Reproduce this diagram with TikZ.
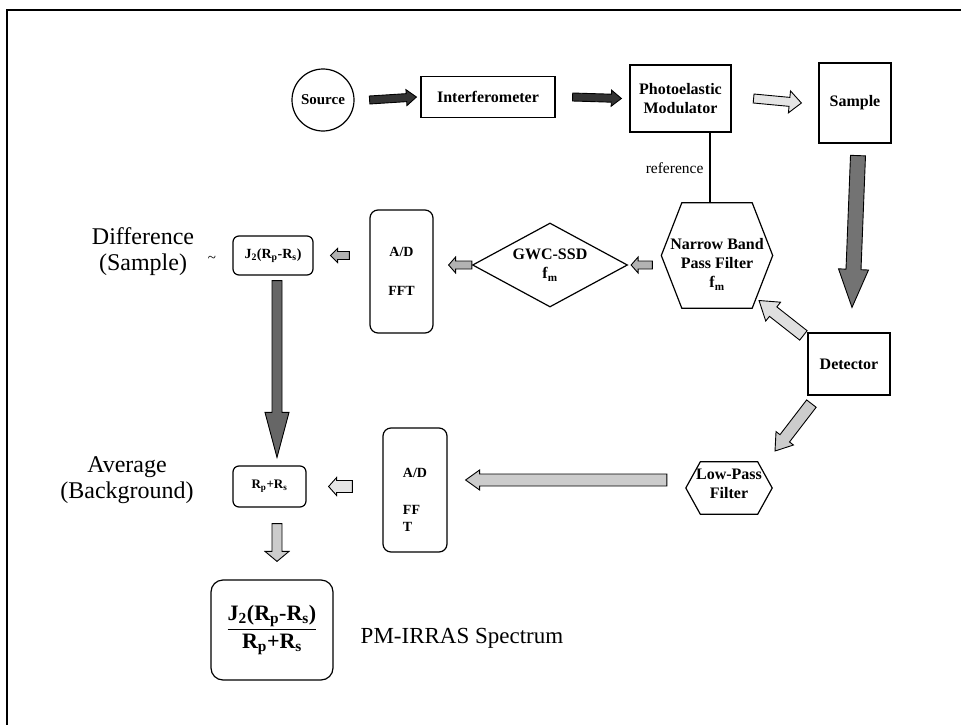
\documentclass[tikz,border=0pt]{standalone}
\usepackage{amsmath}
\usepackage{fontspec}
\setmainfont{Liberation Serif}
\usetikzlibrary{calc, shapes.geometric}

% block arrow: [style]{from}{to}{half shaft}{half head}{head length}
\newcommand{\blockarrow}[6][]{%
  \coordinate (ba-s) at #2;
  \coordinate (ba-e) at #3;
  \coordinate (ba-c) at ($(ba-e)!#6!(ba-s)$);
  \filldraw[blk, #1]
    ($(ba-s)!#4!90:(ba-e)$) -- ($(ba-c)!#4!90:(ba-e)$) -- ($(ba-c)!#5!90:(ba-e)$)
    -- (ba-e) -- ($(ba-c)!#5!-90:(ba-e)$) -- ($(ba-c)!#4!-90:(ba-e)$)
    -- ($(ba-s)!#4!-90:(ba-e)$) -- cycle;
}

\begin{document}
\begin{tikzpicture}[
  x=1pt, y=-1pt,
  box/.style={draw, line width=1.2pt, font=\bfseries\fontsize{16}{19}\selectfont,
    align=center, inner sep=2pt},
  rbox/.style={box, rounded corners=#1},
  rbox/.default=6pt,
  hexa/.style={font=\bfseries\fontsize{16}{19}\selectfont, align=center, inner sep=0pt},
  lbl/.style={font=\fontsize{24}{26}\selectfont, align=center},
  blk/.style={draw=black, line width=0.9pt, line join=miter},
]

\useasboundingbox (0,0) rectangle (961,725);

% frame
\draw[line width=2pt] (7,725) -- (7,10) -- (961,10);

% =============================================
% top row
% =============================================
\node[box, circle, minimum size=62pt, inner sep=0pt,
  font=\bfseries\fontsize{15}{18}\selectfont] (src) at (323,100) {Source};
\node[box, minimum width=134pt, minimum height=41pt] (intf) at (488,97) {Interferometer};
\node[box, minimum width=101pt, minimum height=67pt] (pem) at (680.5,98.5)
  {Photoelastic\\Modulator};
\node[box, minimum width=72pt, minimum height=80pt] (smp) at (855,103) {Sample};

\blockarrow[fill=black!80]{([xshift=15pt]src.east)}{([xshift=-4pt]intf.west)}{4pt}{8pt}{10pt}
\blockarrow[fill=black!80]{([xshift=17pt]intf.east)}{([xshift=-8pt]pem.west)}{4pt}{8pt}{10pt}
\blockarrow[fill=gray!20]{([xshift=22pt]pem.east)}{([xshift=-17pt]smp.west)}{4.5pt}{11pt}{12pt}

% =============================================
% detector and lock-in branch
% =============================================
\node[box, minimum width=82pt, minimum height=62pt] (det) at (849,364) {Detector};

\node[minimum width=111pt, minimum height=105pt] (nbp) at (717,255.5) {};
\draw[line width=1.2pt] (nbp.west) -- ([xshift=20.5pt]nbp.north west)
  -- ([xshift=-20.5pt]nbp.north east) -- (nbp.east)
  -- ([xshift=-20.5pt]nbp.south east) -- ([xshift=20.5pt]nbp.south west) -- cycle;
\node[hexa] (nbptext) at ([yshift=-9pt]nbp.center)
  {Narrow Band\\Pass Filter\\f\textsubscript{m}};

% reference line
\draw[line width=1.2pt] ([xshift=29.5pt]pem.south) -- ([xshift=29.5pt]pem.south |- nbp.north)
  node[midway, left, font=\fontsize{15.5}{18}\selectfont, inner sep=6pt] (ref) {reference};

\node[box, diamond, aspect=1.85, inner sep=0pt, minimum width=155pt,
  minimum height=84pt] (gwc) at (550,265) {GWC-SSD\\f\textsubscript{m}};

\node[rbox=8pt, minimum width=63pt, minimum height=123pt,
  font=\bfseries\fontsize{14}{17}\selectfont] (adu) at (401.5,271.5) {A/D\\[22pt]FFT};

\node[rbox, minimum width=80pt, minimum height=39pt,
  font=\bfseries\fontsize{14}{17}\selectfont] (diff) at (273,255.5)
  {J\textsubscript{2}(R\textsubscript{p}-R\textsubscript{s})};

\node[lbl] (difflbl) at (143,251.5) {Difference\\(Sample)};
\node[font=\fontsize{15}{16}\selectfont] (tilde) at (212,259) {\textasciitilde};

\blockarrow[fill=black!55]{([shift={(3,12)}]smp.south)}{([shift={(3,-25)}]det.north)}{7.5pt}{15pt}{38pt}
\blockarrow[fill=gray!25]{([shift={(-4,3)}]det.north west)}{([shift={(42,45)}]nbp.center)}{6pt}{12pt}{18pt}
\blockarrow[fill=gray!60]{([shift={(-9,9.5)}]nbp.west)}{([xshift=3pt]gwc.east)}{4pt}{8pt}{7pt}
\blockarrow[fill=gray!60]{(gwc.west)}{([xshift=15pt]gwc.west -| adu.east)}{4pt}{8pt}{7pt}
\blockarrow[fill=gray!60]{([xshift=-20pt]adu.west |- diff.east)}{([xshift=17pt]diff.east)}{4pt}{7pt}{7pt}

% =============================================
% low-pass / background branch
% =============================================
\node[minimum width=86pt, minimum height=52pt] (lp) at (729,488) {};
\draw[line width=1.2pt] (lp.west) -- ([xshift=14.5pt]lp.north west)
  -- ([xshift=-14.5pt]lp.north east) -- (lp.east)
  -- ([xshift=-14.5pt]lp.south east) -- ([xshift=14.5pt]lp.south west) -- cycle;
\node[hexa] (lptext) at ([yshift=4pt]lp.center) {Low-Pass\\Filter};

\node[rbox=8pt, minimum width=64pt, minimum height=124pt] (adl) at (415,490) {};
\node[align=left, font=\bfseries\fontsize{14}{17}\selectfont] (adltext)
  at ([yshift=-10pt]adl.center) {A/D\\[20pt]FF\\T};

\node[rbox, minimum width=73pt, minimum height=41pt,
  font=\bfseries\fontsize{13}{16}\selectfont] (avg) at (269.5,486.5)
  {R\textsubscript{p}+R\textsubscript{s}};

\node[lbl] (avglbl) at (127,480) {Average\\(Background)};

\blockarrow[fill=gray!40]{([shift={(4,8)}]det.south west)}{([shift={(46,-37)}]lp.center)}{6pt}{11pt}{16pt}
\blockarrow[fill=gray!40]{([shift={(-19,-8)}]lp.west)}{([shift={(18,-10)}]adl.east)}{6pt}{10pt}{14pt}
\blockarrow[fill=gray!20]{([xshift=-30pt]adl.west |- avg.east)}{([xshift=22pt]avg.east)}{6pt}{9pt}{8pt}
\blockarrow[fill=black!60]{([shift={(4,5)}]diff.south)}{([shift={(7.5,-8)}]avg.north)}{5pt}{12pt}{45pt}

% =============================================
% result
% =============================================
\node[rbox=12pt, minimum width=122pt, minimum height=100pt,
  font=\bfseries\fontsize{22}{26}\selectfont] (res) at (272,630)
  {$\dfrac{\textbf{J\textsubscript{2}(R\textsubscript{p}-R\textsubscript{s})}}
   {\textbf{R\textsubscript{p}+R\textsubscript{s}}}$};

\node[font=\fontsize{23}{26}\selectfont] (speclbl) at (462,638) {PM-IRRAS Spectrum};

\blockarrow[fill=gray!40]{([shift={(7.5,16)}]avg.south)}{([shift={(5,-18)}]res.north)}{5pt}{12pt}{10pt}

\end{tikzpicture}
\end{document}
